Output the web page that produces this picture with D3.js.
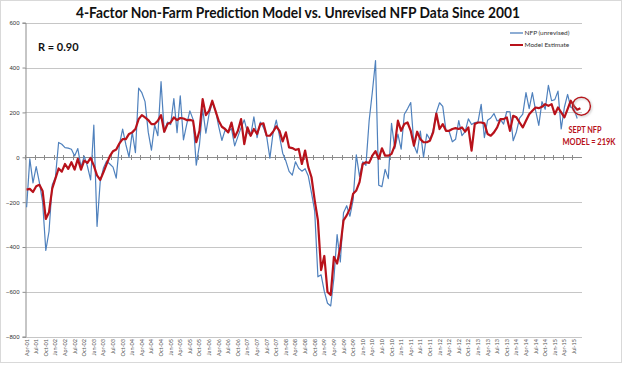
<!DOCTYPE html>
<html>
<head>
<meta charset="utf-8">
<script src="https://cdn.jsdelivr.net/npm/d3@7"></script>
<style>
  body { margin: 0; background: #fff; }
  svg { display: block; font-family: Lato, "Open Sans", sans-serif; }
</style>
</head>
<body>
<svg id="chart" width="624" height="365"></svg>
<script>

// Monthly NFP change (unrevised), Apr-01 .. Aug-15, thousands
const nfpByYear = [
    [-223, -7, -114, -42, -113, -199, -415, -331, -124],
    [-89, 66, 58, 43, 41, 36, 6, 39, -43, 5, -40, -101],
    [143, -308, -108, -48, -17, -30, -44, -93, 57, 126, 57, 1],
    [112, 21, 308, 288, 248, 112, 32, 144, 96, 337, 112, 157],
    [146, 262, 110, 274, 78, 146, 207, 169, -35, 56, 215, 108],
    [193, 243, 211, 138, 75, 121, 113, 128, 51, 92, 132, 167],
    [111, 97, 180, 88, 157, 132, 92, -4, 110, 166, 94, 18],
    [-17, -63, -80, -20, -49, -62, -51, -84, -159, -240, -533, -524],
    [-598, -651, -663, -539, -345, -467, -247, -216, -263, -190, 11, -85],
    [-20, -36, 162, 290, 431, -125, -131, -54, -95, 151, 39, 103],
    [36, 192, 216, 244, 54, 18, 117, 0, 103, 80, 120, 200],
    [243, 227, 120, 115, 69, 80, 163, 96, 114, 171, 146, 155],
    [157, 236, 88, 165, 175, 195, 162, 169, 148, 204, 203, 74],
    [113, 175, 192, 288, 217, 288, 209, 142, 248, 214, 321, 252],
    [257, 295, 126, 223, 280, 223, 215, 173]
];

// 4-factor model estimate, Apr-01 .. Sep-15
const modelByYear = [
    [-144, -141, -155, -129, -123, -150, -275, -245, -140],
    [-95, -50, -64, -30, -52, -22, -55, -7, -55, -15, -25, -3],
    [-37, -81, -101, -67, -30, 5, 27, 35, 62, 81, 81, 104],
    [111, 126, 170, 188, 178, 166, 148, 148, 163, 188, 114, 148],
    [155, 178, 166, 175, 173, 166, 167, 163, 67, 118, 259, 188],
    [207, 252, 207, 163, 136, 126, 111, 155, 89, 118, 170, 59],
    [133, 96, 126, 104, 148, 151, 96, 96, 114, 138, 118, 71],
    [111, 44, 41, 33, 37, -30, 30, -44, -89, -192, -281, -503],
    [-440, -600, -614, -444, -474, -400, -281, -259, -229, -163, -148, -111],
    [-30, -22, -25, 7, 27, -7, 40, 7, 7, 15, 52, 163],
    [118, 148, 155, 118, 52, 114, 81, 67, 67, 74, 111, 195],
    [126, 148, 118, 118, 126, 130, 126, 133, 114, 133, 30, 148],
    [155, 155, 151, 104, 96, 111, 133, 170, 170, 178, 118, 185],
    [178, 155, 133, 163, 192, 207, 222, 219, 225, 237, 229, 237],
    [192, 222, 200, 178, 215, 252, 228, 212, 219]
];

const yTicks = [600, 400, 200, 0, -200, -400, -600, -800];
const seriesNames = ["NFP (unrevised)", "Model Estimate"];
const titleText = "4-Factor Non-Farm Prediction Model vs. Unrevised NFP Data Since 2001";
const rText = "R = 0.90";
const noteLines = ["SEPT NFP", "MODEL = 219K"];

const nfp = nfpByYear.flat();
const model = modelByYear.flat();

// Month categories Apr-01 .. Sep-15
const months = d3.timeMonth.range(new Date(2001, 3, 1), new Date(2015, 9, 1));
const fmt = d3.timeFormat("%b-%y");

// Colours
const blue = "#4f81bd",
    red = "#b8121b",
    grid = "#c6c6c6",
    axisCol = "#8c8c8c";

const svg = d3.select("#chart");

// Chart area border
svg.append("rect")
    .attr("x", 0.5).attr("y", 0.5)
    .attr("width", 621).attr("height", 362)
    .attr("fill", "#fff")
    .attr("stroke", "#d9d9d9");

// Scales
const x = d3.scaleBand()
    .domain(d3.range(months.length))
    .range([25, 582]);
const xc = i => x(i) + x.bandwidth() / 2;
const y = d3.scaleLinear()
    .domain([-800, 600])
    .range([336.7, 22.7]);

// Horizontal gridlines
svg.append("g")
    .selectAll("line")
    .data(yTicks)
    .join("line")
    .attr("x1", 25).attr("x2", 582)
    .attr("y1", d => Math.round(y(d)) + 0.5)
    .attr("y2", d => Math.round(y(d)) + 0.5)
    .attr("stroke", d => d === 0 ? axisCol : grid)
    .attr("stroke-width", 1);

// Y axis
const yAxis = svg.append("g")
    .attr("transform", "translate(25.5,0)")
    .call(d3.axisLeft(y).tickValues(yTicks).tickSize(3).tickPadding(3).tickFormat(d3.format("d")));
yAxis.select(".domain").attr("stroke", axisCol);
yAxis.selectAll(".tick line").attr("stroke", axisCol);
yAxis.selectAll("text")
    .attr("font-size", 6)
    .attr("fill", "#333");

// Category axis on the zero line (tick marks only)
const quarterIdx = d3.range(0, months.length, 3);
svg.append("g")
    .selectAll("line")
    .data(quarterIdx)
    .join("line")
    .attr("x1", d => Math.round(x(d)) + 0.5)
    .attr("x2", d => Math.round(x(d)) + 0.5)
    .attr("y1", Math.round(y(0)) - 2)
    .attr("y2", Math.round(y(0)) + 3)
    .attr("stroke", axisCol);

// Category labels at the bottom
svg.append("g")
    .selectAll("text")
    .data(quarterIdx)
    .join("text")
    .attr("transform", d => `translate(${xc(d) + 2},339) rotate(-90)`)
    .attr("text-anchor", "end")
    .attr("font-size", 5.5)
    .attr("fill", "#555")
    .text(d => fmt(months[d]));

// Lines
const line = d3.line()
    .x((d, i) => xc(i))
    .y(d => y(d));

svg.append("path")
    .datum(nfp)
    .attr("d", line)
    .attr("fill", "none")
    .attr("stroke", blue)
    .attr("stroke-width", 1.2)
    .attr("stroke-linejoin", "round");

svg.append("path")
    .datum(model)
    .attr("d", line)
    .attr("fill", "none")
    .attr("stroke", red)
    .attr("stroke-width", 2.2)
    .attr("stroke-linejoin", "round");

// Title
svg.append("text")
    .attr("x", 298).attr("y", 18)
    .attr("text-anchor", "middle")
    .attr("font-size", 14.5)
    .attr("font-weight", "bold")
    .attr("textLength", 444)
    .attr("lengthAdjust", "spacingAndGlyphs")
    .attr("fill", "#111")
    .text(titleText);

// R value
svg.append("text")
    .attr("x", 38).attr("y", 51)
    .attr("font-size", 11)
    .attr("font-weight", "bold")
    .attr("fill", "#111")
    .text(rText);

// Legend
const legend = svg.append("g");
[blue, red].forEach((c, i) => {
    legend.append("line")
        .attr("x1", 510).attr("x2", 523)
        .attr("y1", 33 + i * 12).attr("y2", 33 + i * 12)
        .attr("stroke", c)
        .attr("stroke-width", i ? 2 : 1.3);
    legend.append("text")
        .attr("x", 524.5).attr("y", 35.3 + i * 12)
        .attr("font-size", 6.5)
        .attr("fill", "#333")
        .text(seriesNames[i]);
});

// Sept annotation
const last = model.length - 1;
const defs = svg.append("defs");
const glow = defs.append("filter").attr("id", "glow")
    .attr("x", "-50%").attr("y", "-50%").attr("width", "200%").attr("height", "200%");
glow.append("feDropShadow")
    .attr("dx", 1).attr("dy", 1).attr("stdDeviation", 1.2)
    .attr("flood-color", "#999").attr("flood-opacity", 0.6);

svg.append("circle")
    .attr("cx", xc(last) + 1).attr("cy", y(model[last]) - 2)
    .attr("r", 9)
    .attr("fill", "none")
    .attr("stroke", red)
    .attr("stroke-width", 1.5)
    .attr("filter", "url(#glow)");

svg.append("g")
    .selectAll("text")
    .data(noteLines)
    .join("text")
    .attr("x", (d, i) => i ? 589 : 585)
    .attr("y", (d, i) => 132.5 + i * 12)
    .attr("text-anchor", "middle")
    .attr("font-size", 8.5)
    .attr("font-weight", "bold")
    .attr("textLength", (d, i) => i ? 53 : 33)
    .attr("lengthAdjust", "spacingAndGlyphs")
    .attr("fill", red)
    .text(d => d);

</script>
</body>
</html>
